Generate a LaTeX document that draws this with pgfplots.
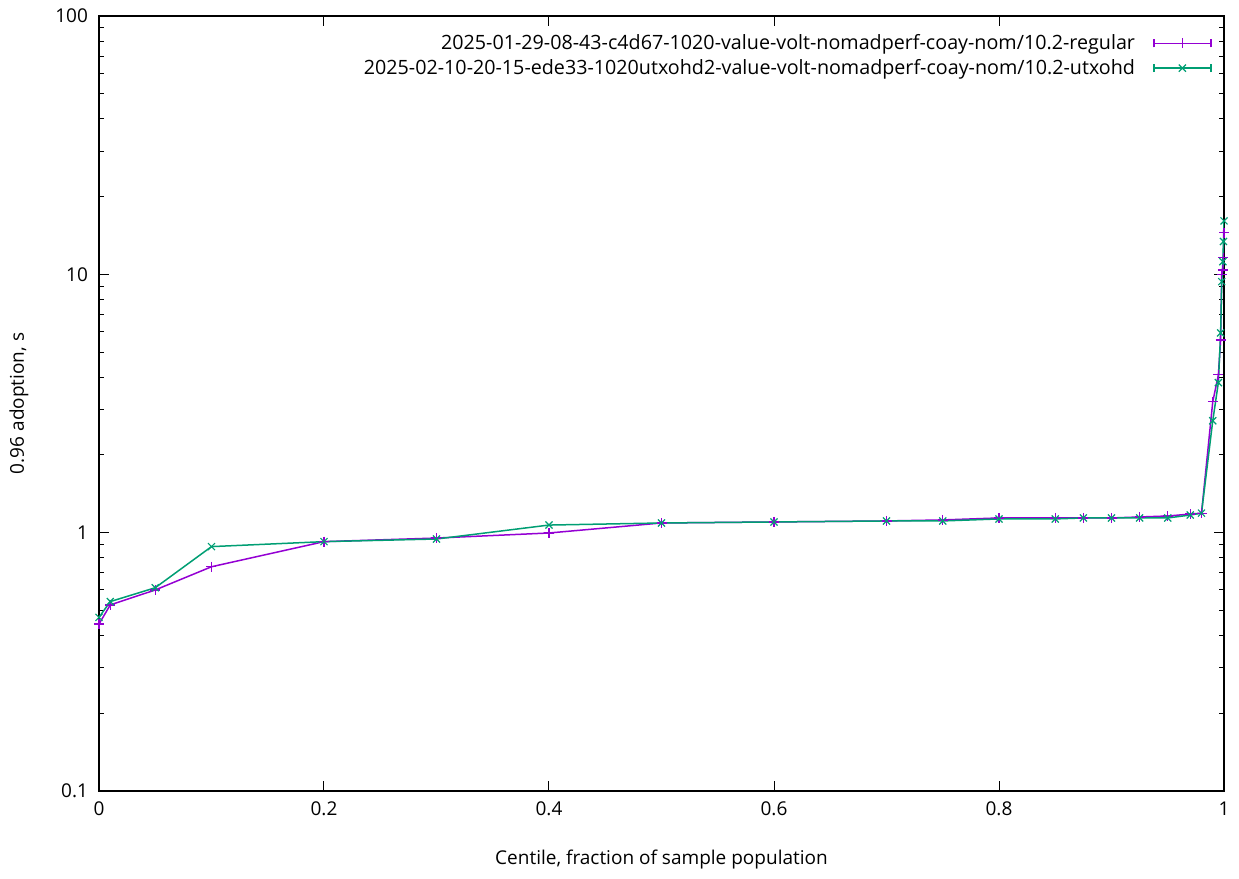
\documentclass[border=0pt]{standalone}
\usepackage{pgfplots}
\pgfplotsset{compat=1.18}
\usepackage{fontspec}
\setmainfont{Open Sans}
\definecolor{gpviolet}{RGB}{148,0,211}
\definecolor{gpgreen}{RGB}{0,158,115}
\newcommand{\gpfont}{\fontsize{9.5pt}{11pt}\selectfont}
\newcommand{\gplegfont}{\fontsize{9.85pt}{11pt}\selectfont}
\begin{document}
\begin{tikzpicture}[font=\gpfont]
\begin{axis}[
  scale only axis,
  width=562.5pt, height=387.5pt,
  ymode=log,
  xmin=0, xmax=1, ymin=0.1, ymax=100,
  xtick={0,0.2,0.4,0.6,0.8,1},
  xticklabels={0,0.2,0.4,0.6,0.8,1},
  ytick={0.1,1,10,100},
  yticklabels={0.1,1,10,100},
  tick align=inside,
  major tick length=5pt,
  minor tick length=2.5pt,
  tick style={black, line width=0.5pt},
  axis line style={black, line width=0.6pt},
  tick label style={font=\gpfont, black},
  xticklabel style={yshift=-2pt},
  yticklabel style={xshift=-2pt},
  xlabel={Centile, fraction of sample population},
  ylabel={0.96 adoption, s},
  label style={font=\gpfont},
  xlabel style={at={(0.5,0)}, anchor=center, yshift=-34.5pt},
  ylabel style={at={(0,0.5)}, anchor=center, yshift=40pt},
  legend plot pos=right,
  legend cell align=right,
  legend style={at={(1,1)}, anchor=north east, xshift=-6pt, yshift=-7.5pt,
    draw=none, fill=none, inner sep=0pt, row sep=0.3pt, font=\gplegfont,
    nodes={inner sep=1.5pt}},
  legend image code/.code={%
    \path[draw=none, fill=none] (0pt,0pt) -- (8pt,0pt);
    \draw[#1, mark repeat=2, mark phase=2] plot coordinates {(8pt,0pt) (22.25pt,0pt) (36.5pt,0pt)};
    \draw[#1, mark=none] (8pt,-2pt) -- (8pt,2pt) (36.5pt,-2pt) -- (36.5pt,2pt);
  },
]
\addplot[color=gpviolet, line width=0.75pt, mark=+, mark size=2.5pt, mark options={line width=0.6pt}] coordinates {
(0,0.443) (0.01,0.525) (0.05,0.600) (0.1,0.738) (0.2,0.923) (0.3,0.953)
(0.4,0.997) (0.5,1.09) (0.6,1.10) (0.7,1.11) (0.75,1.12) (0.8,1.14)
(0.85,1.14) (0.875,1.14) (0.9,1.14) (0.925,1.15) (0.95,1.16) (0.97,1.18)
(0.98,1.19) (0.99,3.21) (0.995,4.08) (0.997,5.57) (0.998,10.0)
(0.999,10.4) (0.9995,11.6) (1,14.5)
};
\addlegendentry{2025-01-29-08-43-c4d67-1020-value-volt-nomadperf-coay-nom/10.2-regular}
\addplot[color=gpgreen, line width=0.75pt, mark=x, mark size=2.5pt, mark options={line width=0.6pt}] coordinates {
(0,0.470) (0.01,0.541) (0.05,0.612) (0.1,0.883) (0.2,0.923) (0.3,0.945)
(0.4,1.07) (0.5,1.09) (0.6,1.10) (0.7,1.11) (0.75,1.11) (0.8,1.13)
(0.85,1.13) (0.875,1.14) (0.9,1.14) (0.925,1.14) (0.95,1.14) (0.97,1.17)
(0.98,1.19) (0.99,2.71) (0.995,3.81) (0.997,5.93) (0.998,9.37)
(0.999,11.2) (0.9995,13.4) (1,16.1)
};
\addlegendentry{2025-02-10-20-15-ede33-1020utxohd2-value-volt-nomadperf-coay-nom/10.2-utxohd}
\end{axis}
\pgfresetboundingbox
\path (current axis.south west) ++(-49.5pt,-44pt) coordinate (bbsw);
\path (current axis.north east) ++(7.5pt,8pt) coordinate (bbne);
\path (bbsw) rectangle (bbne);
\end{tikzpicture}
\end{document}
